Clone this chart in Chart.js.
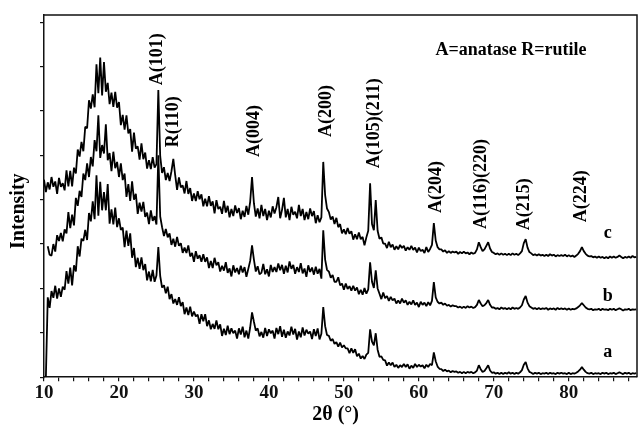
<!DOCTYPE html>
<html>
<head>
<meta charset="utf-8">
<title>XRD TiO2</title>
<script src="https://cdn.jsdelivr.net/npm/chart.js@4.4.1/dist/chart.umd.min.js"></script>
<style>
  html, body { margin: 0; padding: 0; background: #fff; }
</style>
</head>
<body>
<canvas id="xrd" width="638" height="425"></canvas>
<script>
// scan grid (degrees 2θ): first point and step
const scanStart = 10;
const scanStep = 0.25;

// intensities, one row per degree (10.00, 10.25, 10.50, 10.75 ...)
const sampleC = [
  4.45, 4.17, 4.39, 4.23,  4.51, 4.29, 4.41, 4.13,  4.49, 4.29, 4.37, 4.21,  4.66, 4.30, 4.65, 4.30,
  4.72, 4.59, 5.13, 4.97,  5.30, 5.09, 5.64, 5.61,  6.24, 6.05, 6.37, 6.08,  7.05, 6.40, 7.20, 6.35,
  7.10, 6.43, 6.63, 6.15,  6.41, 6.09, 6.43, 6.07,  6.20, 5.68, 5.91, 5.58,  5.90, 5.49, 5.59, 5.08,
  5.51, 5.15, 5.20, 4.90,  5.27, 4.91, 5.06, 4.70,  4.89, 4.69, 4.96, 4.72,  4.80, 6.47, 4.98, 4.60,
  4.73, 4.44, 4.60, 4.42,  4.64, 4.92, 4.55, 4.22,  4.50, 4.28, 4.32, 4.14,  4.42, 4.13, 4.26, 3.97,
  4.14, 3.97, 4.19, 4.01,  4.12, 3.85, 4.02, 3.85,  4.08, 3.86, 3.96, 3.69,  3.99, 3.79, 3.84, 3.68,
  3.97, 3.71, 3.86, 3.60,  3.79, 3.63, 3.87, 3.70,  3.81, 3.56, 3.75, 3.61,  3.86, 3.66, 3.95, 4.51,
  3.92, 3.62, 3.80, 3.58,  3.88, 3.63, 3.79, 3.54,  3.75, 3.60, 3.85, 3.69,  3.83, 4.06, 3.58, 3.77,
  4.04, 3.60, 3.79, 3.54,  3.84, 3.66, 3.73, 3.58,  3.88, 3.63, 3.79, 3.54,  3.72, 3.56, 3.80, 3.63,
  3.74, 3.47, 3.65, 3.49,  3.60, 4.85, 4.10, 3.80,  3.72, 3.55, 3.62, 3.45,  3.59, 3.38, 3.45, 3.24,
  3.33, 3.22, 3.36, 3.23,  3.29, 3.10, 3.22, 3.11,  3.26, 3.11, 3.16, 2.97,  3.15, 3.30, 4.37, 3.45,
  3.31, 3.99, 3.30, 3.12,  3.15, 3.01, 3.01, 2.91,  3.05, 2.93, 2.99, 2.87,  2.95, 2.88, 2.98, 2.91,
  2.96, 2.85, 2.93, 2.87,  2.96, 2.87, 2.92, 2.81,  2.92, 2.84, 2.87, 2.80,  2.93, 2.82, 2.89, 2.98,
  3.47, 3.08, 2.93, 2.88,  2.88, 2.83, 2.86, 2.80,  2.84, 2.80, 2.83, 2.81,  2.83, 2.78, 2.82, 2.79,
  2.83, 2.79, 2.81, 2.77,  2.81, 2.78, 2.80, 2.88,  3.04, 2.93, 2.84, 2.88,  2.96, 3.04, 2.90, 2.82,
  2.80, 2.77, 2.79, 2.76,  2.79, 2.76, 2.78, 2.75,  2.78, 2.75, 2.79, 2.76,  2.78, 2.75, 2.79, 2.84,
  3.02, 3.11, 2.92, 2.82,  2.79, 2.75, 2.77, 2.74,  2.77, 2.74, 2.76, 2.73,  2.76, 2.73, 2.77, 2.74,
  2.76, 2.72, 2.75, 2.73,  2.75, 2.73, 2.76, 2.72,  2.75, 2.72, 2.74, 2.71,  2.74, 2.78, 2.84, 2.93,
  2.84, 2.78, 2.74, 2.72,  2.73, 2.70, 2.72, 2.69,  2.72, 2.69, 2.71, 2.68,  2.71, 2.68, 2.72, 2.69,
  2.72, 2.69, 2.71, 2.74,  2.71, 2.68, 2.71, 2.69,  2.72, 2.69, 2.73, 2.70,  2.71
];

const sampleB = [
  null, null, 2.95, 2.76,  2.74, 3.00, 2.83, 3.20,  3.07, 3.25, 3.06, 3.33,  3.24, 3.72, 3.36, 3.66,
  3.42, 4.04, 3.86, 4.20,  4.06, 4.59, 4.44, 4.82,  4.51, 4.96, 4.75, 5.34,  5.09, 5.90, 4.94, 5.23,
  5.04, 5.70, 4.89, 5.05,  4.64, 5.08, 4.71, 4.85,  4.51, 4.82, 4.44, 4.59,  4.06, 4.35, 3.97, 4.41,
  4.00, 4.13, 3.68, 3.93,  3.73, 3.95, 3.61, 3.71,  3.45, 3.76, 3.52, 3.63,  3.44, 5.00, 3.62, 3.38,
  3.18, 3.34, 3.15, 3.24,  2.98, 3.12, 2.94, 3.16,  2.96, 3.02, 2.80, 2.92,  2.80, 2.97, 2.72, 2.80,
  2.60, 2.84, 2.67, 2.75,  2.60, 2.77, 2.60, 2.70,  2.46, 2.62, 2.46, 2.69,  2.52, 2.59, 2.38, 2.51,
  2.40, 2.59, 2.35, 2.45,  2.27, 2.52, 2.36, 2.46,  2.32, 2.51, 2.36, 2.48,  2.26, 2.44, 2.62, 2.97,
  2.65, 2.38, 2.50, 2.32,  2.35, 2.55, 2.32, 2.43,  2.27, 2.53, 2.37, 2.48,  2.37, 2.56, 2.41, 2.53,
  2.33, 2.51, 2.36, 2.61,  2.44, 2.53, 2.33, 2.48,  2.37, 2.57, 2.34, 2.45,  2.26, 2.52, 2.37, 2.47,
  2.31, 2.49, 2.33, 2.44,  2.22, 3.31, 2.65, 2.42,  2.38, 2.24, 2.30, 2.15,  2.15, 2.25, 2.07, 2.11,
  1.97, 2.11, 1.99, 2.05,  1.95, 2.06, 1.95, 2.02,  1.87, 1.97, 1.86, 2.01,  1.88, 1.98, 2.59, 2.15,
  2.01, 2.41, 2.00, 1.88,  1.76, 1.91, 1.78, 1.83,  1.72, 1.81, 1.73, 1.77,  1.66, 1.73, 1.66, 1.77,
  1.68, 1.73, 1.63, 1.70,  1.64, 1.73, 1.63, 1.68,  1.58, 1.70, 1.63, 1.68,  1.60, 1.69, 1.62, 1.72,
  2.14, 1.80, 1.70, 1.66,  1.68, 1.63, 1.66, 1.61,  1.63, 1.59, 1.62, 1.60,  1.60, 1.57, 1.59, 1.56,
  1.59, 1.56, 1.60, 1.57,  1.59, 1.56, 1.58, 1.63,  1.74, 1.66, 1.60, 1.62,  1.67, 1.74, 1.63, 1.57,
  1.57, 1.54, 1.56, 1.53,  1.57, 1.54, 1.56, 1.53,  1.56, 1.53, 1.57, 1.54,  1.56, 1.54, 1.57, 1.62,
  1.75, 1.83, 1.68, 1.60,  1.57, 1.54, 1.56, 1.53,  1.56, 1.53, 1.55, 1.54,  1.56, 1.52, 1.55, 1.53,
  1.55, 1.52, 1.56, 1.53,  1.55, 1.53, 1.55, 1.52,  1.55, 1.52, 1.54, 1.53,  1.55, 1.58, 1.62, 1.67,
  1.62, 1.57, 1.54, 1.53,  1.54, 1.51, 1.53, 1.52,  1.54, 1.51, 1.54, 1.52,  1.53, 1.51, 1.54, 1.52,
  1.54, 1.51, 1.53, 1.55,  1.53, 1.50, 1.53, 1.52,  1.54, 1.51, 1.53, 1.52,  1.53
];

const sampleA = [
  null, 0.00, 1.80, 1.56,  1.94, 1.79, 2.06, 1.77,  2.00, 1.81, 2.04, 1.97,  2.39, 2.11, 2.47, 2.07,
  2.52, 2.38, 2.95, 2.72,  3.12, 3.07, 3.32, 3.09,  3.70, 3.51, 3.96, 3.56,  4.55, 3.64, 4.40, 3.76,
  4.17, 3.76, 4.35, 3.46,  3.78, 3.44, 3.82, 3.38,  3.58, 3.32, 3.37, 2.93,  3.30, 2.96, 3.24, 2.69,
  2.91, 2.48, 2.69, 2.44,  2.70, 2.41, 2.55, 2.18,  2.38, 2.16, 2.42, 2.15,  2.29, 2.93, 2.28, 2.02,
  2.07, 1.89, 2.04, 1.76,  1.87, 1.66, 1.76, 1.63,  1.80, 1.60, 1.69, 1.42,  1.57, 1.40, 1.59, 1.37,
  1.48, 1.37, 1.41, 1.20,  1.42, 1.26, 1.42, 1.15,  1.28, 1.08, 1.20, 1.09,  1.28, 1.08, 1.19, 0.93,
  1.09, 0.95, 1.16, 0.97,  1.10, 0.99, 1.05, 0.87,  1.10, 0.96, 1.14, 0.90,  1.05, 0.87, 1.12, 1.46,
  1.25, 1.05, 1.10, 0.92,  1.02, 0.89, 1.11, 0.93,  1.08, 0.99, 1.05, 0.87,  1.11, 0.97, 1.15, 0.91,
  1.07, 0.89, 1.03, 0.94,  1.14, 0.96, 1.09, 0.85,  1.03, 0.90, 1.12, 0.94,  1.07, 0.98, 1.03, 0.86,
  1.08, 0.93, 1.10, 0.85,  0.98, 1.58, 1.15, 0.95,  0.93, 0.82, 0.86, 0.75,  0.79, 0.69, 0.78, 0.67,
  0.72, 0.65, 0.65, 0.54,  0.65, 0.55, 0.63, 0.47,  0.53, 0.42, 0.48, 0.41,  0.51, 0.55, 1.08, 0.80,
  0.72, 0.99, 0.62, 0.46,  0.47, 0.39, 0.38, 0.26,  0.33, 0.27, 0.33, 0.23,  0.28, 0.21, 0.27, 0.23,
  0.30, 0.23, 0.29, 0.19,  0.26, 0.21, 0.30, 0.23,  0.28, 0.24, 0.27, 0.20,  0.28, 0.23, 0.30, 0.27,
  0.56, 0.36, 0.24, 0.19,  0.18, 0.14, 0.17, 0.13,  0.15, 0.11, 0.14, 0.12,  0.13, 0.10, 0.12, 0.09,
  0.12, 0.09, 0.12, 0.10,  0.12, 0.09, 0.11, 0.15,  0.27, 0.18, 0.12, 0.14,  0.20, 0.27, 0.15, 0.10,
  0.11, 0.08, 0.10, 0.07,  0.10, 0.07, 0.10, 0.08,  0.11, 0.08, 0.10, 0.07,  0.10, 0.08, 0.11, 0.16,
  0.28, 0.34, 0.20, 0.12,  0.10, 0.07, 0.10, 0.08,  0.10, 0.07, 0.09, 0.08,  0.10, 0.07, 0.10, 0.08,
  0.09, 0.07, 0.10, 0.08,  0.10, 0.08, 0.09, 0.07,  0.10, 0.07, 0.09, 0.08,  0.10, 0.13, 0.17, 0.23,
  0.17, 0.12, 0.09, 0.08,  0.10, 0.07, 0.09, 0.08,  0.09, 0.07, 0.10, 0.08,  0.10, 0.07, 0.09, 0.08,
  0.10, 0.07, 0.09, 0.11,  0.09, 0.07, 0.10, 0.08,  0.10, 0.07, 0.09, 0.08,  0.09
];

const sampleNames = ['a', 'b', 'c'];
const sampleTraces = [sampleA, sampleB, sampleC];

// reflection labels: text, 2θ, and the intensity where the label starts
const peakText = ['A(101)', 'R(110)', 'A(004)', 'A(200)', 'A(105)(211)', 'A(204)', 'A(116)(220)', 'A(215)', 'A(224)'];
const peakAngle = [25.1, 27.3, 38.0, 47.6, 54.0, 62.4, 68.4, 74.1, 81.7];
const peakLabelFrom = [6.58, 5.18, 4.96, 5.41, 4.71, 3.70, 3.34, 3.31, 3.49];

// where the sample letters sit
const nameAngle = 85.2;
const nameLevel = [0.56, 1.83, 3.25];

const serif = "'Liberation Serif', 'Times New Roman', serif";

const toPoints = vals => vals.map((v, i) => ({ x: scanStart + i * scanStep, y: v }));

const annotate = {
  id: 'annotate',
  afterDraw(chart) {
    const { ctx, chartArea: area, scales: { x, y } } = chart;
    ctx.save();

    // close the frame
    ctx.strokeStyle = '#111';
    ctx.lineWidth = 1.5;
    ctx.beginPath();
    ctx.moveTo(area.left, area.top);
    ctx.lineTo(area.right, area.top);
    ctx.lineTo(area.right, area.bottom);
    ctx.stroke();

    ctx.fillStyle = '#000';

    // hkl labels, written upwards
    ctx.font = 'bold 18px ' + serif;
    ctx.textAlign = 'left';
    ctx.textBaseline = 'middle';
    peakText.forEach((t, i) => {
      ctx.save();
      ctx.translate(x.getPixelForValue(peakAngle[i]), y.getPixelForValue(peakLabelFrom[i]));
      ctx.rotate(-Math.PI / 2);
      ctx.fillText(t, 0, 0);
      ctx.restore();
    });

    // sample letters
    ctx.textAlign = 'center';
    sampleNames.forEach((n, i) => {
      ctx.fillText(n, x.getPixelForValue(nameAngle), y.getPixelForValue(nameLevel[i]));
    });

    ctx.fillText('A=anatase R=rutile', x.getPixelForValue(72.3), y.getPixelForValue(7.37));

    // axis titles
    ctx.font = 'bold 20px ' + serif;
    ctx.save();
    ctx.translate(area.left - 25, y.getPixelForValue(3.74));
    ctx.rotate(-Math.PI / 2);
    ctx.fillText('Intensity', 0, 0);
    ctx.restore();

    ctx.fillText('2θ (°)', x.getPixelForValue(48.9), area.bottom + 38);

    ctx.restore();
  }
};

new Chart(document.getElementById('xrd'), {
  type: 'line',
  data: {
    datasets: sampleTraces.map((vals, i) => ({
      label: sampleNames[i],
      data: toPoints(vals),
      borderColor: '#000',
      borderWidth: 1.8,
      borderJoinStyle: 'bevel',
      pointRadius: 0,
      tension: 0,
      spanGaps: false
    }))
  },
  options: {
    responsive: false,
    animation: false,
    layout: { padding: { left: 40, right: 1, top: 15, bottom: 21 } },
    plugins: {
      legend: { display: false },
      tooltip: { enabled: false }
    },
    scales: {
      x: {
        type: 'linear',
        min: 10,
        max: 89.1,
        border: { color: '#111', width: 1.5 },
        grid: { drawOnChartArea: false, color: '#111', lineWidth: 1.2, tickLength: 4 },
        ticks: {
          stepSize: 2,
          includeBounds: false,
          autoSkip: false,
          maxRotation: 0,
          padding: 0,
          color: '#111',
          font: { family: serif, size: 19, weight: 'bold' },
          callback: v => (v % 10 === 0 && v <= 80) ? v : ''
        }
      },
      y: {
        min: 0,
        max: 8.16,
        border: { color: '#111', width: 1.5 },
        grid: { drawOnChartArea: false, color: '#111', lineWidth: 1.2, tickLength: 4 },
        ticks: { display: false, stepSize: 1, includeBounds: false }
      }
    }
  },
  plugins: [annotate]
});
</script>
</body>
</html>
